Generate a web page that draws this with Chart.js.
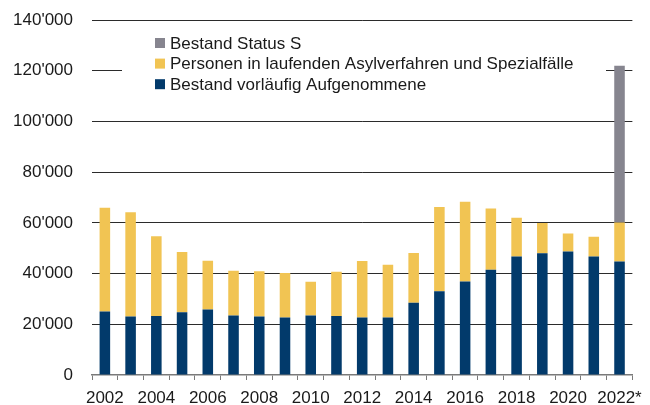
<!DOCTYPE html>
<html>
<head>
<meta charset="utf-8">
<script src="https://cdn.jsdelivr.net/npm/chart.js@4"></script>
<style>
  html, body { margin: 0; padding: 0; background: #fff; }
  #wrap { width: 650px; height: 405px; position: relative; }
</style>
</head>
<body>
<div id="wrap"><canvas id="bestand"></canvas></div>
<script>
const years = ['2002', '2003', '2004', '2005', '2006', '2007', '2008', '2009', '2010', '2011',
  '2012', '2013', '2014', '2015', '2016', '2017', '2018', '2019', '2020', '2021', '2022*'];
const aufgenommene = [25000, 23100, 23300, 24700, 25800, 23500, 23100, 22700, 23500, 23300,
  22700, 22700, 28500, 33000, 36900, 41500, 46700, 48000, 48700, 46700, 44800];
const asylverfahren = [41000, 41100, 31400, 23800, 19300, 17600, 17800, 17500, 13300, 17400,
  22300, 20800, 19600, 33300, 31400, 24200, 15300, 11900, 7100, 7800, 15300];
const statusS = [0, 0, 0, 0, 0, 0, 0, 0, 0, 0,
  0, 0, 0, 0, 0, 0, 0, 0, 0, 0, 61900];
const yTicks = [0, 20000, 40000, 60000, 80000, 100000, 120000, 140000];

const FONT = '"Liberation Sans", Arial, Helvetica, sans-serif';
const NAVY = '#023a6b';
const YELLOW = '#f1c453';
const GREY = '#86858f';

function fmt(v) {
  return String(v).replace(/\B(?=(\d{3})+(?!\d))/g, "'");
}

// legend box sits on top of the grid, inside the plot
const boxLegend = {
  id: 'boxLegend',
  beforeDatasetsDraw(chart) {
    const ctx = chart.ctx;
    ctx.save();
    ctx.fillStyle = '#fff';
    ctx.fillRect(122, 30, 484, 66);
    const items = chart.data.datasets.slice().reverse();
    ctx.font = '17px ' + FONT;
    ctx.textBaseline = 'middle';
    items.forEach((ds, i) => {
      const y = 43 + i * 20.6;
      ctx.fillStyle = ds.backgroundColor;
      ctx.fillRect(155, y - 5, 10, 10);
      ctx.fillStyle = '#1a1a1a';
      ctx.fillText(ds.label, 170, y + 1);
    });
    ctx.restore();
  }
};

new Chart(document.getElementById('bestand'), {
  type: 'bar',
  data: {
    labels: years,
    datasets: [
      { label: 'Bestand vorläufig Aufgenommene', data: aufgenommene, backgroundColor: NAVY },
      { label: 'Personen in laufenden Asylverfahren und Spezialfälle', data: asylverfahren, backgroundColor: YELLOW },
      { label: 'Bestand Status S', data: statusS, backgroundColor: GREY },
    ],
  },
  options: {
    responsive: true,
    maintainAspectRatio: false,
    animation: false,
    layout: { padding: { top: 20, right: 11, left: 0, bottom: 0 } },
    datasets: { bar: { barPercentage: 0.41, categoryPercentage: 1 } },
    plugins: { legend: { display: false }, tooltip: { enabled: false } },
    scales: {
      x: {
        stacked: true,
        afterFit: (s) => { s.height = 30; },
        border: { display: true, color: '#7a7a7a', width: 1.5 },
        grid: { display: true, offset: true, drawOnChartArea: false, drawTicks: true, tickLength: 5, color: '#7a7a7a' },
        ticks: {
          autoSkip: false,
          maxRotation: 0,
          padding: 8,
          color: '#1a1a1a',
          font: { family: FONT, size: 17 },
          callback(v, i) { return i % 2 === 0 ? this.getLabelForValue(v) : ''; },
        },
      },
      y: {
        stacked: true,
        min: 0,
        max: 140000,
        afterFit: (s) => { s.width = 92; s.paddingTop = 0; s.paddingBottom = 0; },
        afterBuildTicks: (s) => { s.ticks = yTicks.map((v) => ({ value: v })); },
        border: { display: false },
        grid: {
          drawTicks: false,
          color: (c) => (c.tick && c.tick.value === 0 ? 'rgba(0,0,0,0)' : '#2b2b2b'),
          lineWidth: 1,
        },
        ticks: {
          padding: 19,
          color: '#1a1a1a',
          font: { family: FONT, size: 17 },
          callback: (v) => fmt(v),
        },
      },
    },
  },
  plugins: [boxLegend],
});
</script>
</body>
</html>
